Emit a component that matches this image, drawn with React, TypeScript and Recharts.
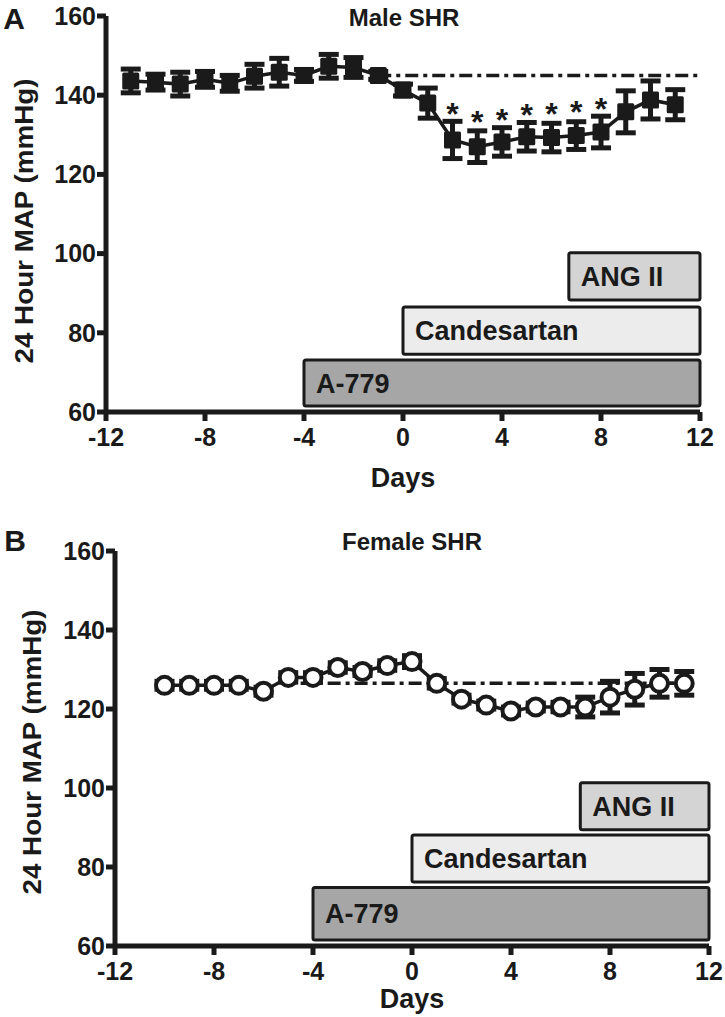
import React from "react";
import { ComposedChart, Line, Scatter, XAxis, YAxis, ErrorBar, ReferenceArea, ReferenceLine } from "recharts";

const INK = "#1a1a1a";
const FONT = "'Liberation Sans', Arial, sans-serif";

// Male SHR, days -11..11
const maleDays = [-11, -10, -9, -8, -7, -6, -5, -4, -3, -2, -1, 0, 1, 2, 3, 4, 5, 6, 7, 8, 9, 10, 11];
const maleMap = [143.6, 143.3, 142.8, 144, 143, 144.8, 145.8, 145, 147.3, 147, 145, 141.3, 138, 128.7, 127, 128.2, 129.5, 129.3, 129.8, 130.7, 135.8, 138.8, 137.6];
const maleSem = [3, 2, 3, 2, 2, 3, 3.5, 1.5, 3, 2.5, 1, 1.5, 3.8, 4.7, 4, 3.6, 3.6, 3.6, 3.5, 4, 5.3, 4.8, 3.8];
const starDays = [2, 3, 4, 5, 6, 7, 8];
const starLevels = [137, 135, 135.6, 136.8, 137, 137.5, 138.3];

// Female SHR, days -10..11
const femaleDays = [-10, -9, -8, -7, -6, -5, -4, -3, -2, -1, 0, 1, 2, 3, 4, 5, 6, 7, 8, 9, 10, 11];
const femaleMap = [126, 126, 126, 126, 124.5, 128, 128, 130.5, 129.5, 131, 132, 126.5, 122.5, 121, 119.5, 120.5, 120.5, 120.5, 123, 125, 126.5, 126.5];
const femaleSem = [1, 1, 1, 1, 1, 1.2, 1.2, 1.2, 1, 1.2, 1.5, 1.2, 1, 1, 1, 1, 1.2, 2.5, 4, 4, 3.5, 3];

const xTicks = [-12, -8, -4, 0, 4, 8, 12];
const yTicks = [60, 80, 100, 120, 140, 160];

const treatments = ["A-779", "Candesartan", "ANG II"];
const treatFill = ["#a6a6a6", "#ececec", "#d4d4d4"];
const treatEnd = 12;
const maleTreatStart = [-4, 0, 6.7];
const maleTreatBottom = [61.5, 74.6, 88.3];
const maleTreatTop = [73.1, 86.5, 100.2];
const femaleTreatStart = [-4, 0, 6.8];
const femaleTreatBottom = [61.5, 76.2, 89.4];
const femaleTreatTop = [74.8, 88.1, 101.3];

const maleBaseline = 145;
const maleBaselineSpan = [-1, 12];
const femaleBaseline = 126.5;
const femaleBaselineSpan = [-4.5, 11.5];

const maleRows = maleDays.map((d, i) => ({ day: d, map: maleMap[i], sem: maleSem[i] }));
const femaleRows = femaleDays.map((d, i) => ({ day: d, map: femaleMap[i], sem: femaleSem[i] }));
const starRows = starDays.map((d, i) => ({ day: d, y: starLevels[i] }));

const Square = (p: any) => {
  if (p.cx == null) return null;
  return <rect key={`sq-${p.index}`} x={p.cx - 8.5} y={p.cy - 8.5} width={17} height={17} rx={1.5} fill={INK} />;
};

const Ring = (p: any) => {
  if (p.cx == null) return null;
  return <circle key={`ci-${p.index}`} cx={p.cx} cy={p.cy} r={8.5} fill="#fff" stroke={INK} strokeWidth={4} />;
};

const Star = (p: any) => (
  <text x={p.cx} y={p.cy + 18} textAnchor="middle" fontSize={32} fontWeight="bold" fontFamily={FONT} fill={INK}>*</text>
);

function Panel({ rows, marker, starData, start, bottom, top, baseline, span, margin, width, height }: any) {
  return (
    <ComposedChart width={width} height={height} data={rows} margin={margin}>
      <XAxis
        dataKey="day" type="number" domain={[-12, 12]} ticks={xTicks} height={60}
        axisLine={{ stroke: INK, strokeWidth: 5 }} tickLine={{ stroke: INK, strokeWidth: 5 }} tickSize={9} tickMargin={7}
        tick={{ fontSize: 25, fontWeight: "bold", fill: INK, fontFamily: FONT }}
      />
      <YAxis
        type="number" domain={[60, 160]} ticks={yTicks} width={60}
        axisLine={{ stroke: INK, strokeWidth: 5 }} tickLine={{ stroke: INK, strokeWidth: 5 }} tickSize={9} tickMargin={1}
        tick={{ fontSize: 25, fontWeight: "bold", fill: INK, fontFamily: FONT }}
      />
      {treatments.map((t, i) => (
        <ReferenceArea
          key={t} x1={start[i]} x2={treatEnd} y1={bottom[i]} y2={top[i]}
          fill={treatFill[i]} fillOpacity={1} stroke={INK} strokeWidth={3} radius={2}
          label={{ value: t, position: "insideLeft", offset: 12, fontSize: 27, fontWeight: "bold", fill: INK, fontFamily: FONT }}
        />
      ))}
      <ReferenceLine
        segment={[{ x: span[0], y: baseline }, { x: span[1], y: baseline }]}
        stroke={INK} strokeWidth={3.5} strokeDasharray="13 5 4 5"
      />
      <Line dataKey="map" type="linear" stroke={INK} strokeWidth={3.5} dot={marker} isAnimationActive={false}>
        <ErrorBar dataKey="sem" direction="y" width={10} stroke={INK} strokeWidth={5} />
      </Line>
      {starData && <Scatter data={starData} dataKey="y" shape={Star} isAnimationActive={false} />}
    </ComposedChart>
  );
}

const txt = { fontFamily: FONT, fontWeight: "bold", fill: INK } as const;

export default function App() {
  return (
    <div style={{ position: "absolute", left: 0, top: 0, width: 725, height: 1017, background: "#fff" }}>
      <div style={{ position: "absolute", left: 0, top: 0 }}>
        <Panel
          rows={maleRows} marker={Square} starData={starRows}
          start={maleTreatStart} bottom={maleTreatBottom} top={maleTreatTop}
          baseline={maleBaseline} span={maleBaselineSpan}
          width={725} height={500} margin={{ top: 16, right: 25, bottom: 28, left: 46 }}
        />
      </div>
      <div style={{ position: "absolute", left: 0, top: 520 }}>
        <Panel
          rows={femaleRows} marker={Ring}
          start={femaleTreatStart} bottom={femaleTreatBottom} top={femaleTreatTop}
          baseline={femaleBaseline} span={femaleBaselineSpan}
          width={725} height={497} margin={{ top: 31, right: 16, bottom: 11, left: 55 }}
        />
      </div>
      <svg width={725} height={1017} style={{ position: "absolute", left: 0, top: 0, pointerEvents: "none" }}>
        <text x={14} y={29} textAnchor="middle" fontSize={30} {...txt}>A</text>
        <text x={15} y={551} textAnchor="middle" fontSize={30} {...txt}>B</text>
        <text x={404} y={26} textAnchor="middle" fontSize={24} {...txt}>Male SHR</text>
        <text x={412} y={550} textAnchor="middle" fontSize={24} {...txt}>Female SHR</text>
        <text x={403} y={487} textAnchor="middle" fontSize={27} {...txt}>Days</text>
        <text x={412} y={1008} textAnchor="middle" fontSize={27} {...txt}>Days</text>
        <text transform="translate(33,221) rotate(-90)" textAnchor="middle" fontSize={25} textLength={285} lengthAdjust="spacingAndGlyphs" {...txt}>24 Hour MAP (mmHg)</text>
        <text transform="translate(41,752) rotate(-90)" textAnchor="middle" fontSize={25} textLength={285} lengthAdjust="spacingAndGlyphs" {...txt}>24 Hour MAP (mmHg)</text>
      </svg>
    </div>
  );
}
